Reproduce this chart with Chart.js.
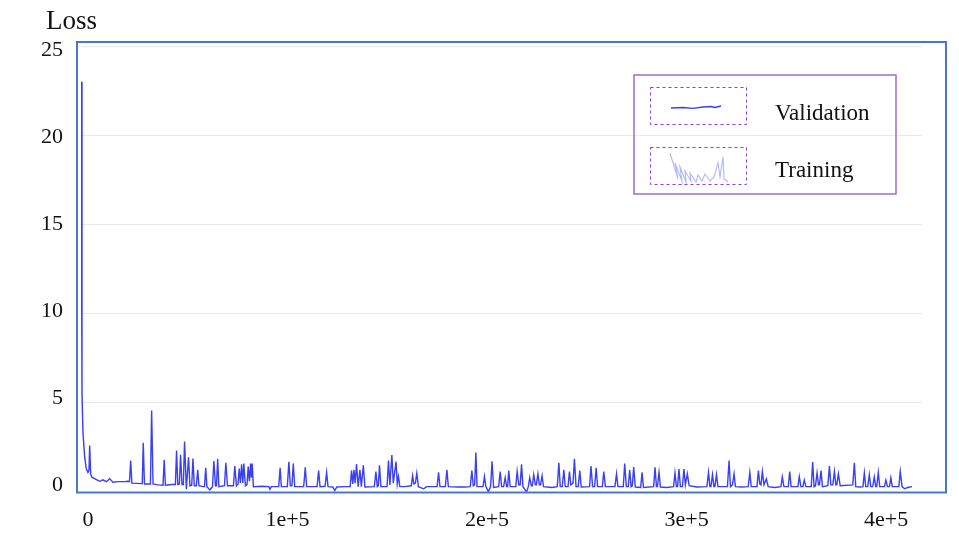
<!DOCTYPE html>
<html>
<head>
<meta charset="utf-8">
<script src="https://cdn.jsdelivr.net/npm/chart.js@4.4.1/dist/chart.umd.min.js"></script>
<style>
  html, body { margin: 0; padding: 0; background: #fff; }
  #wrap { width: 959px; height: 540px; }
</style>
</head>
<body>
<div id="wrap"><canvas id="lossChart" width="959" height="540"></canvas></div>
<script>
/* ── Data ──────────────────────────────────────────────────────────── */
const STEPS = [
  -3500, -3000, -2500, -1650, -850, 0, 500, 850, 1350, 2000, 4200, 5900, 7500, 9200, 10900, 12500, 15000, 18400,
  20000, 20800, 21400, 22000, 26700, 27200, 27700, 28300, 31300, 31900, 32600, 35100, 37600, 38200, 38800, 42100,
  43800, 44400, 45000, 45800, 46400, 47100, 47800, 48400, 49300, 50400, 51100, 52000, 52600, 53300, 54300, 55000, 55600,
  57600, 58400, 59000, 59600, 61100, 62400, 63100, 63900, 64400, 65000, 65600, 68400, 69100, 69900,
  72900, 73600, 74400, 75200, 75800, 76400, 77000, 77600, 78100, 78900, 79700, 80300, 80900, 81500, 81900, 82300, 82900,
  87200, 90700, 91200, 91900, 95600, 96300, 96900, 99900, 100700, 101400, 102200, 102900, 103600,
  108100, 108900, 109600, 114800, 115600, 116300, 118800, 119600, 120300, 122700, 123700, 124700, 128800,
  131400, 132100, 132700, 133300, 133900, 134600, 135400, 136300, 137000, 138000, 138800,
  143500, 144300, 145000, 145500, 146100, 146800, 149900, 150600, 151300, 152300, 153000, 154400, 155000, 155600, 156300,
  158800, 162000, 162700, 163300, 164100, 164800, 165600, 168200, 169800, 175000, 175700, 176400, 179100, 179900, 180600,
  185400, 188900, 191600, 192400, 193100, 193800, 194400, 195000, 198000, 198700, 199400, 200700, 201800, 202500, 203300,
  205800, 206600, 207300, 208300, 209100, 209800, 210300, 210900, 211600, 214400, 215100, 215900, 216600, 217300, 218000,
  219800, 220700, 221400, 222200, 222700, 223400, 224200, 224700, 225500, 226200, 226800, 227600, 228300,
  232500, 235200, 236000, 236700, 237700, 238500, 239200, 240600, 241300, 242000, 243100, 243800, 244600, 245700, 246500, 247200,
  251400, 252100, 252900, 253900, 254700, 255400, 257800, 258500, 259300,
  264100, 264900, 265600, 268300, 269000, 269800, 270800, 271500, 272200, 272800, 273500, 274300, 277000, 277700, 278400,
  283500, 284200, 284900, 285400, 286200, 286900, 290000, 293500, 294200, 294900, 295500, 296200, 296900, 297900, 298700, 299400, 300400, 301300,
  305100, 310200, 311000, 311700, 312200, 313000, 313700, 314200, 315000, 315700,
  320500, 321300, 322000, 323000, 323800, 324500, 327600, 330900, 331700, 332400, 335300, 336000, 336700, 337300, 338000, 338800, 340000, 340900,
  344200, 347300, 348000, 348800, 351000, 351700, 352400, 355800, 356500, 357300, 358300, 359000, 359800,
  362500, 363200, 363900, 364600, 365400, 366100, 366600, 367400, 368100, 370800, 371600, 372300, 373300, 374100, 374800, 375300, 376100, 377000,
  383300, 384100, 384800, 386700, 388400, 389100, 389800, 390800, 391600, 392300, 393300, 394100, 394800, 395300, 396100, 396800,
  399200, 399900, 400700, 401700, 402400, 403100, 406400, 407100, 408000, 409300, 410800, 413000
];

const VAL_LOSS = [
  23.0, 5.5, 3.3, 1.95, 1.3, 1.1, 1.2, 2.6, 1.0, 0.83, 0.7, 0.6, 0.68, 0.58, 0.75, 0.55, 0.58, 0.58,
  0.6, 0.58, 1.77, 0.5, 0.47, 0.47, 2.76, 0.45, 0.45, 4.57, 0.45, 0.4, 0.38, 1.8, 0.38, 0.42,
  0.42, 2.33, 0.42, 0.45, 2.09, 0.42, 0.42, 2.83, 0.15, 1.95, 0.35, 0.38, 1.88, 0.35, 0.35, 1.25, 0.35,
  0.3, 0.3, 1.35, 0.3, 0.12, 0.3, 1.73, 0.35, 0.35, 1.86, 0.3, 0.35, 1.64, 0.35,
  0.35, 1.45, 0.35, 0.45, 1.32, 0.5, 1.56, 0.5, 1.6, 0.35, 0.4, 1.42, 0.6, 1.6, 0.8, 1.6, 0.3,
  0.32, 0.3, 0.15, 0.3, 0.3, 1.35, 0.3, 0.3, 1.7, 0.35, 0.35, 1.6, 0.3,
  0.3, 1.38, 0.3, 0.3, 1.2, 0.3, 0.32, 1.1, 0.3, 0.28, 0.08, 0.28, 0.3,
  0.3, 1.2, 0.45, 1.25, 0.5, 1.56, 0.3, 1.25, 0.3, 1.5, 0.28,
  0.3, 1.15, 0.3, 0.35, 1.5, 0.3, 0.3, 1.77, 0.4, 2.07, 0.5, 1.7, 0.45, 0.87, 0.3,
  0.3, 0.35, 0.92, 0.45, 0.5, 1.05, 0.3, 0.18, 0.3, 0.3, 1.1, 0.3, 0.3, 1.25, 0.3,
  0.28, 0.28, 0.3, 1.2, 0.35, 0.4, 2.21, 0.3, 0.3, 0.87, 0.3, 0.02, 0.3, 1.72, 0.25,
  0.3, 1.15, 0.3, 0.3, 0.8, 0.3, 0.3, 1.2, 0.3, 0.3, 1.15, 0.4, 0.4, 1.55, 0.3,
  0.0, 0.3, 0.8, 0.35, 0.35, 0.97, 0.4, 0.4, 1.02, 0.4, 0.4, 0.9, 0.3,
  0.25, 0.3, 1.64, 0.3, 0.3, 1.25, 0.3, 0.3, 1.15, 0.4, 0.5, 1.86, 0.3, 0.3, 1.2, 0.28,
  0.3, 1.45, 0.3, 0.3, 1.35, 0.3, 0.3, 1.15, 0.3,
  0.3, 1.02, 0.3, 0.3, 1.6, 0.3, 0.3, 1.25, 0.3, 0.35, 1.4, 0.28, 0.25, 1.1, 0.25,
  0.3, 1.38, 0.3, 0.3, 1.1, 0.28, 0.25, 0.3, 1.07, 0.3, 0.3, 1.28, 0.3, 0.3, 1.28, 0.4, 1.02, 0.35,
  0.28, 0.3, 1.1, 0.3, 0.3, 0.97, 0.3, 0.3, 0.97, 0.3,
  0.3, 1.77, 0.3, 0.4, 1.02, 0.3, 0.28, 0.3, 1.1, 0.3, 0.3, 1.2, 0.45, 0.4, 1.15, 0.4, 0.74, 0.3,
  0.25, 0.3, 0.85, 0.3, 0.3, 1.15, 0.3, 0.3, 0.87, 0.3, 0.3, 0.67, 0.3,
  0.3, 1.68, 0.3, 0.35, 1.07, 0.4, 0.4, 1.2, 0.3, 0.35, 1.45, 0.4, 0.4, 1.15, 0.4, 0.4, 1.02, 0.35,
  0.4, 1.64, 0.3, 0.28, 0.3, 1.07, 0.3, 0.3, 0.97, 0.3, 0.3, 0.85, 0.3, 0.3, 1.1, 0.3,
  0.3, 0.67, 0.3, 0.3, 0.8, 0.3, 0.3, 1.15, 0.3, 0.18, 0.25, 0.3
];

const X_TICKS = [0, 100000, 200000, 300000, 400000];
const X_TICK_LABELS = ['0', '1e+5', '2e+5', '3e+5', '4e+5'];
const Y_TICKS = [0, 5, 10, 15, 20, 25];
const SERIES_NAMES = ['Validation', 'Training'];
const Y_TITLE = 'Loss';

/* ── Style ─────────────────────────────────────────────────────────── */
const SERIF = '"Liberation Serif", "Times New Roman", Times, serif';
const LINE_BLUE = '#3a3ff0';
const FRAME_BLUE = '#4a78c8';
const LEGEND_PURPLE = '#9d6fc4';
const DASH_PURPLE = '#8a3fd0';

/* frame, y labels, axis title and legend drawn on top of the chart */
const decorations = {
  id: 'decorations',
  afterDraw(chart) {
    const { ctx, chartArea: a } = chart;
    const yScale = chart.scales.y;
    ctx.save();

    // blue frame around the plot
    ctx.strokeStyle = FRAME_BLUE;
    ctx.lineWidth = 2;
    ctx.strokeRect(a.left - 4, a.top - 4, a.right - a.left + 28, a.bottom - a.top + 4.5);

    // y tick labels (the source packs them slightly tighter than its grid)
    ctx.fillStyle = '#111';
    ctx.font = `22px ${SERIF}`;
    ctx.textAlign = 'right';
    ctx.textBaseline = 'middle';
    Y_TICKS.forEach(v => {
      ctx.fillText(String(v), a.left - 18, yScale.getPixelForValue(v) - 7 + v * 0.44);
    });

    // y-axis title
    ctx.font = `27px ${SERIF}`;
    ctx.textBaseline = 'alphabetic';
    ctx.textAlign = 'left';
    ctx.fillText(Y_TITLE, 46, 29);

    // legend box
    const lx = a.right - 288, ly = a.top + 29, lw = 262, lh = 119;
    ctx.strokeStyle = LEGEND_PURPLE;
    ctx.lineWidth = 1.5;
    ctx.strokeRect(lx, ly, lw, lh);

    ctx.font = `23px ${SERIF}`;
    SERIES_NAMES.forEach((name, i) => {
      const by = ly + 12 + i * 60;
      ctx.setLineDash([3, 3]);
      ctx.strokeStyle = DASH_PURPLE;
      ctx.lineWidth = 1;
      ctx.strokeRect(lx + 16.5, by + 0.5, 96, 37);
      ctx.setLineDash([]);

      ctx.beginPath();
      if (i === 0) {
        ctx.strokeStyle = LINE_BLUE;
        ctx.lineWidth = 1.3;
        const sx = lx + 37, sy = by + 21;
        ctx.moveTo(sx, sy);
        ctx.lineTo(sx + 12, sy - 0.5);
        ctx.lineTo(sx + 22, sy + 0.3);
        ctx.lineTo(sx + 32, sy - 1);
        ctx.lineTo(sx + 40, sy - 1.5);
        ctx.lineTo(sx + 44, sy - 0.5);
        ctx.lineTo(sx + 50, sy - 2);
      } else {
        ctx.strokeStyle = 'rgba(95, 115, 235, 0.5)';
        ctx.lineWidth = 1.1;
        const sx = lx + 36, sy = by + 4;
        const zig = [[0, 2], [8, 28], [5, 12], [12, 30], [10, 16], [16, 31], [15, 20], [21, 30], [20, 22], [26, 31],
                     [28, 24], [32, 30], [35, 23], [40, 30], [44, 26], [48, 12], [50, 26], [53, 6], [54, 28], [58, 31]];
        zig.forEach(([dx, dy], k) => (k ? ctx.lineTo(sx + dx, sy + dy) : ctx.moveTo(sx + dx, sy + dy)));
      }
      ctx.stroke();

      ctx.fillStyle = '#111';
      ctx.fillText(name, lx + 141, ly + 45 + i * 56.5);
    });

    ctx.restore();
  }
};

new Chart(document.getElementById('lossChart'), {
  type: 'line',
  data: {
    datasets: [{
      label: SERIES_NAMES[0],
      data: STEPS.map((s, i) => ({ x: s, y: VAL_LOSS[i] })),
      borderColor: LINE_BLUE,
      borderWidth: 1.4,
      pointRadius: 0,
      tension: 0,
      fill: false
    }]
  },
  options: {
    responsive: false,
    animation: false,
    layout: { padding: { top: 46, right: 37, left: 0, bottom: 0 } },
    plugins: { legend: { display: false }, tooltip: { enabled: false } },
    scales: {
      x: {
        type: 'linear',
        min: -3500,
        max: 418000,
        afterFit: s => { s.height = 48; },
        afterBuildTicks: s => { s.ticks = X_TICKS.map(v => ({ value: v })); },
        grid: { display: false, drawTicks: false },
        border: { display: false },
        ticks: {
          padding: 15,
          maxRotation: 0,
          color: '#111',
          font: { family: SERIF, size: 22 },
          callback: v => X_TICK_LABELS[X_TICKS.indexOf(v)] ?? ''
        }
      },
      y: {
        min: 0,
        max: 25,
        afterFit: s => { s.width = 81; },
        afterBuildTicks: s => { s.ticks = Y_TICKS.map(v => ({ value: v })); },
        grid: { color: '#e9e9e9', lineWidth: 1, drawTicks: false },
        border: { display: false },
        ticks: { display: false }
      }
    }
  },
  plugins: [decorations]
});
</script>
</body>
</html>
